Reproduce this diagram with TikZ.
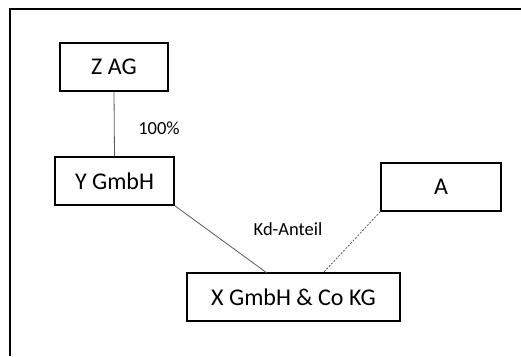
\documentclass[tikz,border=0pt]{standalone}
\usepackage{fontspec}
\setmainfont{Carlito}
\begin{document}
\begin{tikzpicture}[x=1pt,y=-1pt,
  box/.style={draw=black, line width=1.1pt, inner sep=0pt, font=\fontsize{24}{28}\selectfont},
  conn/.style={draw=black!65, line width=0.8pt},
  lbl/.style={font=\fontsize{18.5}{22}\selectfont, inner sep=0pt}]
\useasboundingbox (0,0) rectangle (521,356);
\draw[line width=2pt] (10,356) -- (10,9) -- (521,9);
\node[box, minimum width=108pt, minimum height=48pt] (z) at (114,67) {Z AG};
\node[box, minimum width=119pt, minimum height=48pt] (y) at (114.5,181) {Y GmbH};
\node[box, minimum width=213pt, minimum height=48pt] (x) at (293.5,297) {X GmbH \& Co KG};
\node[box, minimum width=120pt, minimum height=48pt] (a) at (441,187) {A};
\coordinate (yx) at (267,273);
\coordinate (ax) at (323,273);
\draw[conn] (z.south) -- (y.north);
\draw[conn] (y.south east) -- (yx);
\draw[conn, dash pattern=on 2pt off 1.5pt] (a.south west) -- (ax);
\node[lbl] (p) at (159,128) {100\%};
\node[lbl] (kd) at (288,229) {Kd-Anteil};
\end{tikzpicture}
\end{document}
